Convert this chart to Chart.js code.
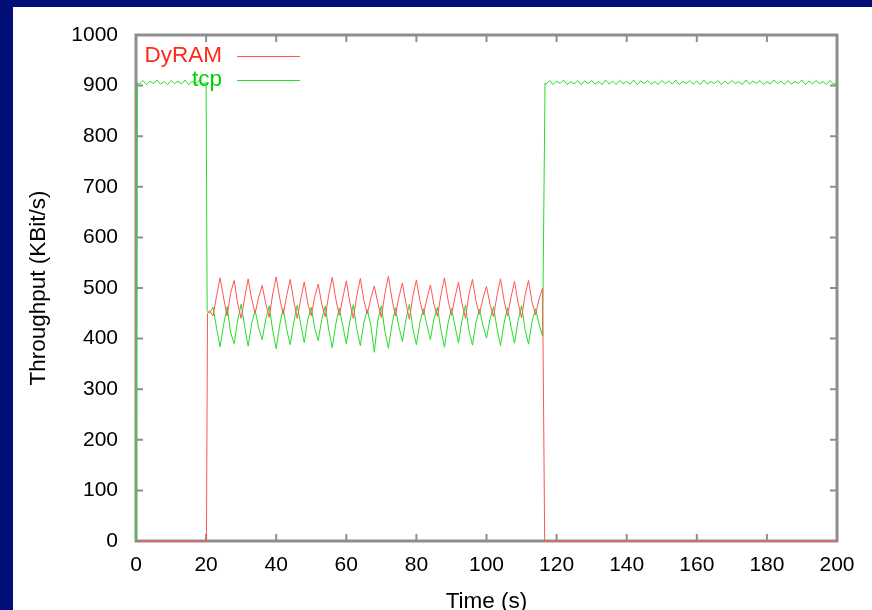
<!DOCTYPE html>
<html lang="en">
<head>
    <meta charset="UTF-8">
    <title>DyRAM vs tcp throughput</title>
    <script src="https://cdn.jsdelivr.net/npm/chart.js"></script>
    <style>
        body { margin: 0; background: #020f78; }
        canvas { display: block; }
    </style>
</head>
<body>
    <canvas id="throughputChart" width="872" height="610"></canvas>

    <script>
        // Tick positions
        const xTicks = [0, 20, 40, 60, 80, 100, 120, 140, 160, 180, 200];
        const yTicks = [0, 100, 200, 300, 400, 500, 600, 700, 800, 900, 1000];

        // tcp samples (time in s, throughput in KBit/s)
        const tcpTime = [
            0, 0.4, 1, 2, 3, 4, 5, 6, 7, 8, 9, 10, 11, 12, 13, 14, 15, 16, 17, 18, 19, 20, 20.3,
            21, 22, 23, 24, 25, 26, 27, 28, 29, 30, 31, 32, 33, 34, 35, 36, 37, 38, 39, 40,
            41, 42, 43, 44, 45, 46, 47, 48, 49, 50, 51, 52, 53, 54, 55, 56, 57, 58, 59, 60,
            61, 62, 63, 64, 65, 66, 67, 68, 69, 70, 71, 72, 73, 74, 75, 76, 77, 78, 79, 80,
            81, 82, 83, 84, 85, 86, 87, 88, 89, 90, 91, 92, 93, 94, 95, 96, 97, 98, 99, 100,
            101, 102, 103, 104, 105, 106, 107, 108, 109, 110, 111, 112, 113, 114, 115, 116, 116.7,
            117, 118, 119, 120, 121, 122, 123, 124, 125, 126, 127, 128, 129, 130, 131, 132, 133, 134,
            135, 136, 137, 138, 139, 140, 141, 142, 143, 144, 145, 146, 147, 148, 149, 150, 151, 152,
            153, 154, 155, 156, 157, 158, 159, 160, 161, 162, 163, 164, 165, 166, 167, 168, 169, 170,
            171, 172, 173, 174, 175, 176, 177, 178, 179, 180, 181, 182, 183, 184, 185, 186, 187, 188,
            189, 190, 191, 192, 193, 194, 195, 196, 197, 198, 199, 200
        ];
        const tcpKbit = [
            0, 905, 903, 910, 902, 909, 904, 911, 903, 908, 902, 910, 904, 909, 903, 911, 902, 908, 904, 910, 903, 906, 455,
            450, 462, 420, 384, 428, 463, 412, 390, 436, 468, 424, 385, 430, 456, 421, 398, 437, 465, 416, 380,
            427, 459, 418, 388, 432, 466, 428, 392, 437, 462, 420, 396, 438, 464, 417, 382, 429, 460, 426, 390,
            434, 467, 419, 386, 431, 457, 426, 373, 436, 465, 415, 381, 426, 461, 424, 394, 437, 468, 420, 388,
            431, 459, 427, 398, 439, 462, 418, 383, 429, 460, 425, 392, 436, 466, 416, 387, 432, 458, 426, 401,
            438, 463, 420, 386, 430, 461, 423, 391, 435, 465, 418, 389, 434, 459, 428, 405, 905,
            903, 910, 902, 909, 904, 911, 902, 908, 903, 910, 902, 909, 904, 910, 903, 908, 902, 911,
            903, 909, 902, 910, 904, 908, 903, 911, 902, 909, 904, 910, 903, 908, 902, 910, 904, 909,
            903, 911, 902, 908, 904, 910, 903, 909, 902, 911, 903, 908, 904, 910, 902, 909, 903, 910,
            904, 908, 902, 911, 903, 909, 904, 910, 902, 908, 903, 911, 904, 909, 902, 910, 903, 908,
            904, 911, 902, 909, 903, 910, 904, 908, 902, 910, 903, 905
        ];

        // DyRAM samples
        const dyramTime = [
            0, 20.1, 20.4,
            21, 22, 23, 24, 25, 26, 27, 28, 29, 30, 31, 32, 33, 34, 35, 36, 37, 38, 39, 40,
            41, 42, 43, 44, 45, 46, 47, 48, 49, 50, 51, 52, 53, 54, 55, 56, 57, 58, 59, 60,
            61, 62, 63, 64, 65, 66, 67, 68, 69, 70, 71, 72, 73, 74, 75, 76, 77, 78, 79, 80,
            81, 82, 83, 84, 85, 86, 87, 88, 89, 90, 91, 92, 93, 94, 95, 96, 97, 98, 99, 100,
            101, 102, 103, 104, 105, 106, 107, 108, 109, 110, 111, 112, 113, 114, 115, 116,
            116.6, 200
        ];
        const dyramKbit = [
            0, 0, 450,
            455, 445, 485, 520, 480, 445, 490, 515, 470, 440, 480, 518, 478, 450, 482, 505, 470, 442, 488, 522,
            480, 448, 485, 517, 475, 440, 478, 512, 470, 445, 483, 508, 468, 443, 487, 521, 478, 446, 480, 514,
            472, 440, 485, 519, 476, 449, 480, 504, 470, 442, 488, 523, 480, 445, 482, 510, 470, 438, 484, 516,
            475, 447, 479, 506, 468, 444, 486, 520, 477, 446, 481, 512, 470, 440, 488, 517, 474, 448, 480, 503,
            468, 443, 485, 518, 476, 445, 482, 513, 471, 441, 486, 515, 472, 447, 478, 500,
            0, 0
        ];

        const FONT = '"Liberation Sans", Arial, sans-serif';
        const RED_LINE = 'rgb(255, 85, 85)';
        const GREEN_LINE = 'rgb(40, 220, 40)';

        function toPoints(times, values) {
            return times.map((t, i) => ({ x: t, y: values[i] }));
        }

        // White panel on the blue page
        const panelPlugin = {
            id: 'panel',
            beforeDraw(chart) {
                const ctx = chart.ctx;
                ctx.save();
                ctx.fillStyle = '#020f78';
                ctx.fillRect(0, 0, chart.width, chart.height);
                ctx.fillStyle = '#ffffff';
                ctx.fillRect(13, 7, chart.width - 13, chart.height - 7);
                ctx.restore();
            }
        };

        // Gnuplot style border with inward ticks
        const framePlugin = {
            id: 'frame',
            beforeDatasetsDraw(chart) {
                const ctx = chart.ctx;
                const a = chart.chartArea;
                const xs = chart.scales.x;
                const ys = chart.scales.y;
                ctx.save();
                ctx.strokeStyle = '#8e8e8e';
                ctx.lineWidth = 2;
                xTicks.forEach(v => {
                    const px = xs.getPixelForValue(v);
                    ctx.beginPath();
                    ctx.moveTo(px, a.bottom); ctx.lineTo(px, a.bottom - 7);
                    ctx.moveTo(px, a.top); ctx.lineTo(px, a.top + 7);
                    ctx.stroke();
                });
                yTicks.forEach(v => {
                    const py = ys.getPixelForValue(v);
                    ctx.beginPath();
                    ctx.moveTo(a.left, py); ctx.lineTo(a.left + 7, py);
                    ctx.moveTo(a.right, py); ctx.lineTo(a.right - 7, py);
                    ctx.stroke();
                });
                ctx.lineWidth = 3;
                ctx.strokeRect(a.left, a.top, a.right - a.left, a.bottom - a.top);
                ctx.restore();
            }
        };

        // Legend and axis titles
        const textPlugin = {
            id: 'texts',
            afterDatasetsDraw(chart) {
                const ctx = chart.ctx;
                const a = chart.chartArea;
                ctx.save();
                ctx.font = '22.5px ' + FONT;
                ctx.textAlign = 'right';
                ctx.textBaseline = 'alphabetic';
                ctx.fillStyle = '#ff2a1a';
                ctx.fillText('DyRAM', 222, 62);
                ctx.fillStyle = '#00d000';
                ctx.fillText('tcp', 222, 86);

                ctx.lineWidth = 1;
                ctx.strokeStyle = RED_LINE;
                ctx.beginPath(); ctx.moveTo(237, 56.5); ctx.lineTo(300, 56.5); ctx.stroke();
                ctx.strokeStyle = GREEN_LINE;
                ctx.beginPath(); ctx.moveTo(237, 80.5); ctx.lineTo(300, 80.5); ctx.stroke();

                ctx.fillStyle = '#000000';
                ctx.textAlign = 'center';
                ctx.fillText('Time (s)', (a.left + a.right) / 2, 608);

                ctx.translate(45, (a.top + a.bottom) / 2);
                ctx.rotate(-Math.PI / 2);
                ctx.fillText('Throughput (KBit/s)', 0, 0);
                ctx.restore();
            }
        };

        const ctx = document.getElementById('throughputChart').getContext('2d');
        const chart = new Chart(ctx, {
            type: 'line',
            data: {
                datasets: [
                    {
                        label: 'DyRAM',
                        data: toPoints(dyramTime, dyramKbit),
                        borderColor: RED_LINE,
                        borderWidth: 1,
                        pointRadius: 0,
                        tension: 0,
                        clip: false
                    },
                    {
                        label: 'tcp',
                        data: toPoints(tcpTime, tcpKbit),
                        borderColor: GREEN_LINE,
                        borderWidth: 1,
                        pointRadius: 0,
                        tension: 0,
                        clip: false
                    }
                ]
            },
            options: {
                responsive: false,
                animation: false,
                events: [],
                layout: { padding: { left: 0, right: 35, top: 35, bottom: 0 } },
                plugins: {
                    legend: { display: false },
                    tooltip: { enabled: false }
                },
                scales: {
                    x: {
                        type: 'linear',
                        min: 0,
                        max: 200,
                        afterBuildTicks: s => { s.ticks = xTicks.map(v => ({ value: v })); },
                        afterFit: s => { s.height = 69; },
                        grid: { display: false, drawTicks: false },
                        border: { display: false },
                        ticks: {
                            color: '#000000',
                            font: { family: FONT, size: 21 },
                            padding: 12,
                            maxRotation: 0,
                            autoSkip: false,
                            callback: v => String(v)
                        }
                    },
                    y: {
                        type: 'linear',
                        min: 0,
                        max: 1000,
                        afterBuildTicks: s => { s.ticks = yTicks.map(v => ({ value: v })); },
                        afterFit: s => { s.width = 136; },
                        grid: { display: false, drawTicks: false },
                        border: { display: false },
                        ticks: {
                            color: '#000000',
                            font: { family: FONT, size: 21 },
                            padding: 18,
                            autoSkip: false,
                            callback: v => String(v)
                        }
                    }
                }
            },
            plugins: [panelPlugin, framePlugin, textPlugin]
        });
    </script>
</body>
</html>
